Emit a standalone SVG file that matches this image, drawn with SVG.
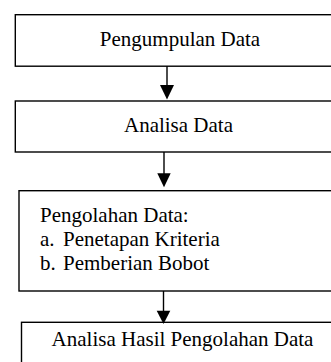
<svg xmlns="http://www.w3.org/2000/svg" width="331" height="362" viewBox="0 0 331 362">
  <style>
    .box { fill: #ffffff; stroke: #000000; stroke-width: 1.4; }
    .lbl { font-family: "Liberation Serif", "Times New Roman", serif; font-size: 21px; fill: #000000; }
    .mid { text-anchor: middle; }
    .edge { stroke: #000000; stroke-width: 1.4; fill: none; }
    .head { fill: #000000; stroke: none; }
  </style>
  <rect width="331" height="362" fill="#ffffff"/>

  <g id="node-pengumpulan">
    <rect class="box" x="15.3" y="14.7" width="330" height="51.5"/>
    <text class="lbl mid" x="180" y="46">Pengumpulan Data</text>
  </g>

  <g id="node-analisa">
    <rect class="box" x="15.3" y="101" width="330" height="51"/>
    <text class="lbl mid" x="178.5" y="131.5">Analisa Data</text>
  </g>

  <g id="node-pengolahan">
    <rect class="box" x="19" y="190.7" width="330" height="100.3"/>
    <text class="lbl" x="40" y="221.7">Pengolahan Data:</text>
    <text class="lbl" x="40" y="245.5">a.</text>
    <text class="lbl" x="63" y="245.5">Penetapan Kriteria</text>
    <text class="lbl" x="40" y="269.5">b.</text>
    <text class="lbl" x="63" y="269.5">Pemberian Bobot</text>
  </g>

  <g id="node-hasil">
    <rect class="box" x="21.5" y="322.3" width="330" height="60"/>
    <text class="lbl mid" x="182.5" y="346">Analisa Hasil Pengolahan Data</text>
  </g>

  <g id="connectors">
    <line class="edge" x1="167" y1="66" x2="167" y2="88"/>
    <polygon class="head" points="160,85 174,85 167,99.5"/>
    <line class="edge" x1="164" y1="152" x2="164" y2="176"/>
    <polygon class="head" points="157.3,173.3 170.7,173.3 164,187.3"/>
    <line class="edge" x1="163.5" y1="291" x2="163.5" y2="313"/>
    <polygon class="head" points="156.7,310.7 170.3,310.7 163.5,324"/>
  </g>
</svg>
